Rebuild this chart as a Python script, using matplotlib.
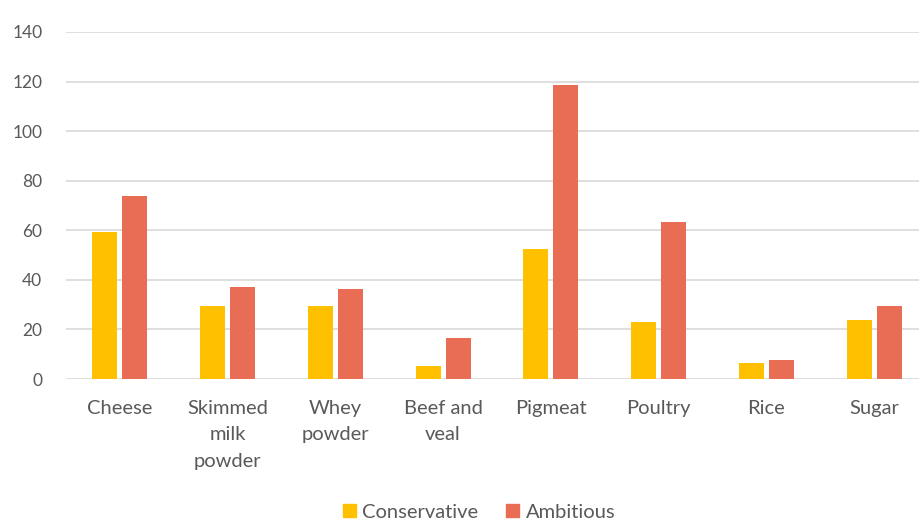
import matplotlib
matplotlib.use("Agg")
import matplotlib.pyplot as plt
import numpy as np
from matplotlib.patches import Patch

categories = ["Cheese", "Skimmed\nmilk\npowder", "Whey\npowder", "Beef and\nveal",
              "Pigmeat", "Poultry", "Rice", "Sugar"]
conservative = [59.4, 29.6, 29.4, 5.4, 52.4, 23.1, 6.3, 23.9]
ambitious = [73.9, 37.0, 36.2, 16.4, 118.5, 63.5, 7.8, 29.6]
yticks = [0, 20, 40, 60, 80, 100, 120, 140]

plt.rcParams['font.family'] = ['Lato', 'DejaVu Sans']
TXT = '#595959'
C1 = '#FFC000'
C2 = '#E96D54'

W, H = 919, 520
fig = plt.figure(figsize=(W / 100, H / 100), dpi=100)
left, right, bottom, top = 66, 928, 379, 32
ax = fig.add_axes([left / W, 1 - bottom / H, (right - left) / W, (bottom - top) / H])

x = np.arange(len(categories))
bw = 0.232
off = 0.14
ax.bar(x - off, conservative, width=bw, color=C1, zorder=3)
ax.bar(x + off, ambitious, width=bw, color=C2, zorder=3)

ax.set_xlim(-0.5, len(categories) - 0.5)
ax.set_ylim(0, 140)
ax.set_yticks(yticks)
ax.set_xticks(x)
ax.set_xticklabels(categories, linespacing=1.68, fontsize=14.5)
ax.grid(axis='y', color='#D9D9D9', linewidth=1.2, zorder=0)
for s in ax.spines.values():
    s.set_visible(False)
ax.tick_params(axis='both', length=0, colors=TXT)
ax.tick_params(axis='y', pad=17, labelsize=12.5)
ax.tick_params(axis='x', pad=15)

handles = [Patch(color=C1, label='Conservative'), Patch(color=C2, label='Ambitious')]
fig.legend(handles=handles, loc='center', bbox_to_anchor=(479 / W, 1 - 512 / H),
           ncol=2, frameon=False, fontsize=14.5, labelcolor=TXT,
           handlelength=0.65, handleheight=0.65, handletextpad=0.3, columnspacing=1.4)

fig.savefig('out.png', dpi=100, facecolor='white')
